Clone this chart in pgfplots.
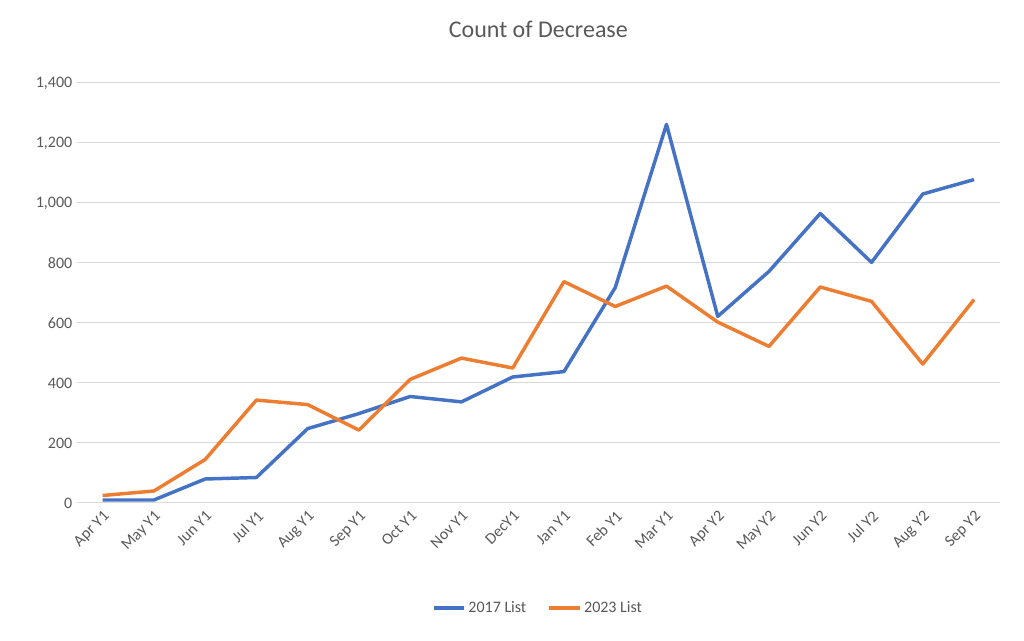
\documentclass[border=0pt]{standalone}
\usepackage{pgfplots}
\pgfplotsset{compat=1.18}
\usepackage{fontspec}
\setmainfont{Carlito}
\definecolor{cblue}{HTML}{4472C4}
\definecolor{corange}{HTML}{ED7D31}
\definecolor{txt}{HTML}{595959}
\definecolor{grd}{HTML}{D9D9D9}
\begin{document}
\begin{tikzpicture}
\useasboundingbox (-57.75pt,-103.5pt) rectangle (710.25pt,377.25pt);
\begin{axis}[at={(0,0)},anchor=south west,scale only axis,width=692pt,height=315pt,
 xmin=-0.5,xmax=17.5,ymin=0,ymax=1400,ytick={0,200,...,1400},
 xtick={0,...,17},xticklabels={Apr Y1,May Y1,Jun Y1,Jul Y1,Aug Y1,Sep Y1,Oct Y1,Nov Y1,DecY1,Jan Y1,Feb Y1,Mar Y1,Apr Y2,May Y2,Jun Y2,Jul Y2,Aug Y2,Sep Y2},
 x tick label style={rotate=45,anchor=north east,font=\fontsize{12}{14}\selectfont,text=txt},
 y tick label style={font=\fontsize{12}{14}\selectfont,text=txt},
 /pgf/number format/assume math mode=true,
 yticklabel style={/pgf/number format/1000 sep={,}},
 ymajorgrids,grid style={grd,line width=0.75pt},
 axis x line*=bottom,axis y line*=left,x axis line style={grd,line width=0.75pt,-},
 y axis line style={draw=none},
 major tick length=0pt,
 title={Count of Decrease},title style={at={(0.5,1)},anchor=center,yshift=34.5pt,font=\fontsize{18}{22}\selectfont,text=txt},
 legend style={at={(0.5,-0.25)},anchor=center,draw=none,legend columns=2,font=\fontsize{12}{14}\selectfont,text=txt,/tikz/every even column/.append style={column sep=14pt}},
 legend image code/.code={\draw[#1] (0cm,0cm) -- (0.8cm,0cm);},
 ]
\addplot[cblue,line width=2.6pt,line join=round] coordinates {(0,10)(1,10)(2,80)(3,85)(4,248)(5,298)(6,355)(7,337)(8,420)(9,438)(10,718)(11,1262)(12,622)(13,772)(14,965)(15,802)(16,1030)(17,1078)};
\addlegendentry{2017 List}
\addplot[corange,line width=2.6pt,line join=round] coordinates {(0,25)(1,40)(2,145)(3,343)(4,328)(5,243)(6,412)(7,483)(8,450)(9,738)(10,655)(11,723)(12,603)(13,522)(14,720)(15,672)(16,463)(17,678)};
\addlegendentry{2023 List}
\end{axis}
\end{tikzpicture}
\end{document}
